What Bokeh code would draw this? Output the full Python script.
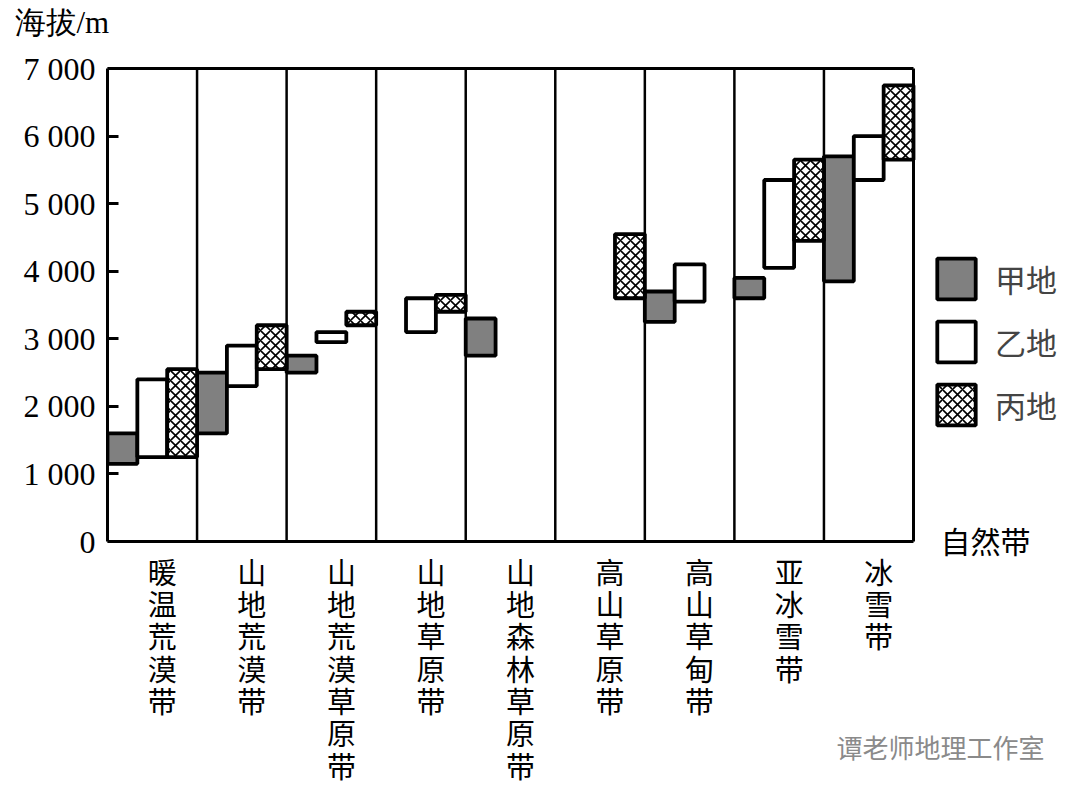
from bokeh.plotting import figure
from bokeh.models import (FixedTicker, Legend, LegendItem, Label, ColumnDataSource, Range1d)
from bokeh.core.properties import value
from bokeh.embed import file_html
from bokeh.resources import INLINE

# ---------------- data ----------------
categories = ["暖温荒漠带", "山地荒漠带", "山地荒漠草原带", "山地草原带", "山地森林草原带",
              "高山草原带", "高山草甸带", "亚冰雪带", "冰雪带"]
series_names = ["甲地", "乙地", "丙地"]
jia_low   = [1150, 1600, 2500, None, 2750, None, 3250, 3600, 3850]
jia_high  = [1600, 2500, 2750, None, 3300, None, 3700, 3900, 5700]
yi_low    = [1250, 2300, 2950, 3100, None, None, 3550, 4050, 5350]
yi_high   = [2400, 2900, 3100, 3600, None, None, 4100, 5350, 6000]
bing_low  = [1250, 2550, 3200, 3400, None, 3600, None, 4450, 5650]
bing_high = [2550, 3200, 3400, 3650, None, 4550, None, 5650, 6750]
y_ticks = [0, 1000, 2000, 3000, 4000, 5000, 6000, 7000]
y_tick_labels = ["0", "1 000", "2 000", "3 000", "4 000", "5 000", "6 000", "7 000"]
y_title = "海拔/m"
x_title = "自然带"
watermark = "谭老师地理工作室"

# ---------------- layout constants (page pixels) ----------------
W, H = 1080, 794
FRAME_L, FRAME_T = 107, 66
n = len(categories)
px_per_unit = (913 - 107) / n
x_end = (W - FRAME_L) / px_per_unit
m_per_px = 7000 / (541 - 68)
y_start = -(H - 541) * m_per_px
y_end = 7000 + (68 - FRAME_T) * m_per_px

p = figure(width=W, height=H, output_backend="svg", toolbar_location=None,
           x_range=Range1d(0, x_end), y_range=Range1d(y_start, y_end),
           x_axis_location=None, min_border_left=FRAME_L, min_border_right=0,
           min_border_top=FRAME_T, min_border_bottom=0)
p.outline_line_color = None
p.grid.visible = False
p.background_fill_color = "white"
p.border_fill_color = "white"

ax = p.yaxis[0]
ax.ticker = FixedTicker(ticks=y_ticks)
ax.major_label_overrides = {t: l for t, l in zip(y_ticks, y_tick_labels)}
ax.bounds = (0, 7000)
ax.axis_line_width = 3
ax.axis_line_color = "black"
ax.major_tick_in = 11
ax.major_tick_out = 0
ax.major_tick_line_width = 3
ax.minor_tick_line_color = None
ax.major_label_standoff = 12
ax.major_label_text_font = "Liberation Serif"
ax.major_label_text_font_size = "32px"
ax.major_label_text_color = "black"

# axis title, placed in the top side panel so it is not clipped by the frame
p.add_layout(Label(x=-(107 - 14) / px_per_unit, y=7000 + (68 - 4) * m_per_px, text=y_title,
                   text_baseline="top", text_align="left", text_font="Liberation Serif",
                   text_font_size="31px", text_color="black"), "above")

# frame box and column dividers
p.segment(x0=[0, 0, n], y0=[0, 7000, 0], x1=[n, n, n], y1=[0, 7000, 7000],
          line_color="black", line_width=3)
p.segment(x0=list(range(1, n)), y0=[0] * (n - 1), x1=list(range(1, n)), y1=[7000] * (n - 1),
          line_color="black", line_width=2.5)

lows = [jia_low, yi_low, bing_low]
highs = [jia_high, yi_high, bing_high]
styles = [dict(fill_color="#808080"),
          dict(fill_color="white"),
          dict(fill_color="white", hatch_pattern="diagonal_cross", hatch_color="black",
               hatch_scale=10, hatch_weight=1.6)]
renderers = []
for k in range(3):
    L, R, B, T = [], [], [], []
    for i in range(n):
        if lows[k][i] is None:
            continue
        L.append(i + k / 3)
        R.append(i + (k + 1) / 3)
        B.append(lows[k][i])
        T.append(highs[k][i])
    src = ColumnDataSource(dict(left=L, right=R, bottom=B, top=T))
    r = p.quad(left="left", right="right", bottom="bottom", top="top", source=src,
               line_color="black", line_width=3.8, **styles[k])
    renderers.append(r)

# category labels (vertical text, one character per line)
p.text(x=[i + 0.5 for i in range(n)], y=[-(549 - 541) * m_per_px] * n,
       text=["\n".join(c) for c in categories], x_offset=10,
       text_align="center", text_baseline="top", text_font=value("Noto Sans CJK SC"),
       text_font_size="29px", text_line_height=0.77, text_color="black")

p.text(x=[n + (985 - 913) / px_per_unit], y=[(541 - 539) * m_per_px], text=[x_title],
       text_align="center", text_baseline="middle", text_font=value("Noto Sans CJK SC"),
       text_font_size="30px", text_color="black")

p.text(x=[(836 - 107) / px_per_unit], y=[-(746 - 541) * m_per_px], text=[watermark],
       text_align="left", text_baseline="middle", text_font=value("Noto Sans CJK SC"),
       text_font_size="26px", text_color="#8a8a8a")

legend = Legend(items=[LegendItem(label=series_names[k], renderers=[renderers[k]]) for k in range(3)],
                location=(825, H - 430), glyph_width=48, glyph_height=51, spacing=12,
                label_standoff=15, label_text_font="Noto Sans CJK SC", label_text_font_size="31px",
                padding=0, margin=0, border_line_color=None, background_fill_alpha=0)
p.add_layout(legend)

open("out.html", "w").write(file_html(p, INLINE))
